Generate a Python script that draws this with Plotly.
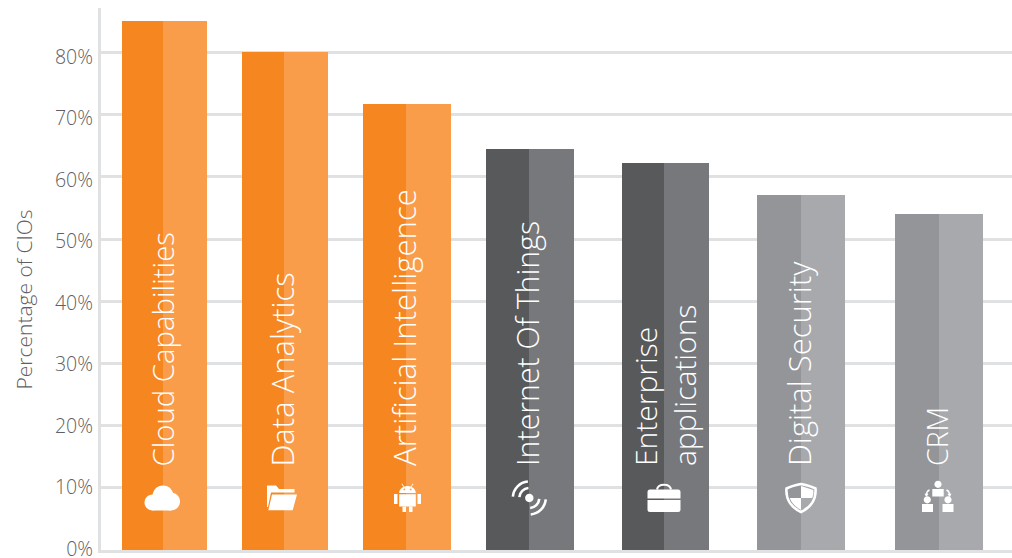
import math
import plotly.graph_objects as go

# ---- data ----
categories = ["Cloud Capabilities", "Data Analytics", "Artificial Intelligence",
              "Internet Of Things", "Enterprise<br>applications", "Digital Security", "CRM"]
percent_of_cios = [85.0, 80.0, 71.7, 64.5, 62.2, 57.1, 54.0]
tick_values = [0, 10, 20, 30, 40, 50, 60, 70, 80]
tick_labels = ["0%", "10%", "20%", "30%", "40%", "50%", "60%", "70%", "80%"]

# ---- layout of the (unevenly placed) bars, x axis in page pixels ----
BAR_LEFT = [122, 242, 363, 486, 622, 757, 895]
BAR_MID = [163, 284, 406, 529, 664, 801, 939]
BAR_RIGHT = [207, 328, 451, 574, 709, 845, 983]
DARK = ["#F6861F"] * 3 + ["#58595B"] * 2 + ["#939598"] * 2
LIGHT = ["#F99D4B"] * 3 + ["#77787B"] * 2 + ["#A7A9AC"] * 2
ICON_X = [162, 282, 407.5, 529.3, 664, 801, 938]
ICON_Y = 8.36   # axis value of the icon row
LABEL_X = [163, 282, 404, 527, 665, 799, 937]
LABEL_SIZE = [29.3, 31, 31.2, 30.3, 30, 31, 28.5]
LABEL_BASE = 13.1
WHITE = "#FFFFFF"
GRID = "#E0E1E2"
TEXT = "#5F6063"


def arc(cx, cy, r, a1, a2, move=True, ry=None):
    """Bezier approximation of a circular arc, angles in degrees, y up."""
    ry = ry or r
    n = max(1, int(abs(a2 - a1) // 90) + (abs(a2 - a1) % 90 > 0))
    d = math.radians((a2 - a1) / n)
    k = 4 / 3 * math.tan(d / 4)
    a = math.radians(a1)
    out = f"M{cx + r*math.cos(a):.2f},{cy + ry*math.sin(a):.2f}" if move else ""
    for _ in range(n):
        b = a + d
        out += (f"C{cx + r*(math.cos(a) - k*math.sin(a)):.2f},{cy + ry*(math.sin(a) + k*math.cos(a)):.2f} "
                f"{cx + r*(math.cos(b) + k*math.sin(b)):.2f},{cy + ry*(math.sin(b) - k*math.cos(b)):.2f} "
                f"{cx + r*math.cos(b):.2f},{cy + ry*math.sin(b):.2f}")
        a = b
    return out


def circ(cx, cy, r):
    return arc(cx, cy, r, 0, 360) + "Z"


def rect(x0, y0, x1, y1):
    return f"M{x0},{y0}L{x1},{y0}L{x1},{y1}L{x0},{y1}Z"


cloud_parts = [circ(1, 2, 10.5), circ(-9.5, -4.5, 8), circ(9, -3.5, 9), rect(-9.5, -12.5, 9, -3)]
folder = ("M-15,12.5L-6,12.5L-3,9L12.5,9L12.5,5.5L-11,5.5L-14,-9L-15,-9Z"
          "M-10,3.5L15,3.5L10.7,-12.2L-13.7,-12.2Z")
android = (arc(0, 5, 8.3, 0, 180, ry=7) + "Z" + rect(-8.3, 3.8, 8.3, -8.5)
           + rect(-13.5, 4, -10, -6) + rect(10, 4, 13.5, -6)
           + rect(-5, -8.8, -1.5, -14) + rect(1.5, -8.8, 5, -14)
           + "M-6,14L-4,11L-3.4,11.4L-5.4,14.4ZM6,14L4,11L3.4,11.4L5.4,14.4Z")
android_eyes = circ(-3.2, 8.6, 0.9) + circ(3.2, 8.6, 0.9)
signal_dot = circ(0, 0, 4.2)
signal_arcs = (arc(0, 0, 10, 175, 95) + arc(0, 0, 16.5, 175, 95)
               + arc(0, 0, 10, -5, -85) + arc(0, 0, 16.5, -5, -85))
case_body = ("M-16.5,6Q-16.5,8.5 -14,8.5L14,8.5Q16.5,8.5 16.5,6L16.5,-0.4L-16.5,-0.4Z"
             "M-16.5,-2L16.5,-2L16.5,-11.5Q16.5,-14 14,-14L-14,-14Q-16.5,-14 -16.5,-11.5Z")
case_handle = "M-7,8.5C-6,15 6,15 7,8.5"
shield_line = ("M0,14C5,13 10,12 14.5,9.5C15.5,-2 9,-10 0,-14C-9,-10 -15.5,-2 -14.5,9.5"
               "C-10,12 -5,13 0,14Z")
shield_fill = ("M0,12L12.3,8C12.6,4 12,2 11.2,0L0,0Z"
               "M-11.2,0L0,0L0,-12C-6,-8.5 -9.5,-5 -11.2,0Z")
people = (circ(0, 13.7, 3.6) + rect(-5.7, 9, 5.7, 1.6)
          + circ(-10.7, -1.8, 3.6) + rect(-16, -6, -5, -14)
          + circ(10, -1.8, 3.6) + rect(4.5, -6, 15.5, -14)
          + "M-13.5,4.5L-9.5,4L-11.8,0.8ZM13.5,4.5L9.5,4L11.8,0.8Z")
people_arrows = "M-11.5,3C-11.5,5 -11,7 -8.5,8M11.5,3C11.5,5 11,7 8.5,8"

fig = go.Figure()
fig.add_bar(x=BAR_LEFT, y=percent_of_cios, offset=0,
            width=[m - l for l, m in zip(BAR_LEFT, BAR_MID)],
            marker=dict(color=DARK, line_width=0), showlegend=False)
fig.add_bar(x=BAR_MID, y=percent_of_cios, offset=0,
            width=[r - m for m, r in zip(BAR_MID, BAR_RIGHT)],
            marker=dict(color=LIGHT, line_width=0), showlegend=False)
# invisible trace that keeps the tick-label axis alive
fig.add_scatter(x=BAR_LEFT[:1] * len(tick_values), y=tick_values, yaxis="y2", mode="markers",
                marker=dict(opacity=0), showlegend=False)


def icon(i, path, fill=WHITE, stroke=None, w=0):
    fig.add_shape(type="path", path=path, xref="x", yref="y",
                  xsizemode="pixel", ysizemode="pixel",
                  xanchor=ICON_X[i], yanchor=ICON_Y,
                  fillcolor=fill, line=dict(color=stroke or WHITE, width=w), layer="above")


for part in cloud_parts:
    icon(0, part)
icon(1, folder)
icon(2, android)
icon(2, android_eyes, fill=LIGHT[2])
icon(3, signal_dot)
icon(3, signal_arcs, fill="rgba(0,0,0,0)", w=2.6)
icon(4, case_body)
icon(4, case_handle, fill="rgba(0,0,0,0)", w=2)
icon(5, shield_line, fill="rgba(0,0,0,0)", w=2.6)
icon(5, shield_fill)
icon(6, people)
icon(6, people_arrows, fill="rgba(0,0,0,0)", w=1.4)

for lx, name, size in zip(LABEL_X, categories, LABEL_SIZE):
    fig.add_annotation(x=lx, y=LABEL_BASE, text=name, textangle=-90, showarrow=False,
                       xref="x", yref="y", xanchor="center", yanchor="bottom", align="left",
                       font=dict(family="Open Sans", size=size, color=WHITE, weight=300))

fig.add_annotation(text="Percentage of CIOs", textangle=-90, showarrow=False,
                   xref="paper", x=-0.085, yref="y", y=40.2,
                   xanchor="center", yanchor="middle",
                   font=dict(family="Open Sans", size=21, color=TEXT, weight=300))

fig.update_layout(
    width=1012, height=558, margin=dict(l=101, r=0, t=8, b=8, autoexpand=False),
    paper_bgcolor="white", plot_bgcolor="white", bargap=0, hovermode=False,
    font=dict(family="Open Sans", color=TEXT),
    xaxis=dict(range=[101, 1012], showgrid=False, zeroline=False, showticklabels=False,
               ticks="", showline=True, linecolor=GRID, linewidth=3, fixedrange=True,
               automargin=False),
    yaxis=dict(range=[0, 87.14], tickvals=tick_values, showticklabels=False,
               gridcolor=GRID, gridwidth=2.6, zeroline=False, showline=True, linecolor=GRID,
               linewidth=3, ticks="", fixedrange=True, automargin=False),
    # tick labels sit on a very slightly tighter scale than the gridlines
    yaxis2=dict(overlaying="y", side="left", range=[-0.16, 87.97], tickvals=tick_values,
                ticktext=tick_labels, showgrid=False, zeroline=False, showline=False,
                ticks="", ticklabelstandoff=7, ticklabeloverflow="allow", fixedrange=True,
                automargin=False, tickfont=dict(size=19.5, color=TEXT, weight=300)),
)
fig.write_html("out.html", config=dict(displayModeBar=False),
               post_script="document.body.style.margin='0';document.body.style.overflow='hidden';")
